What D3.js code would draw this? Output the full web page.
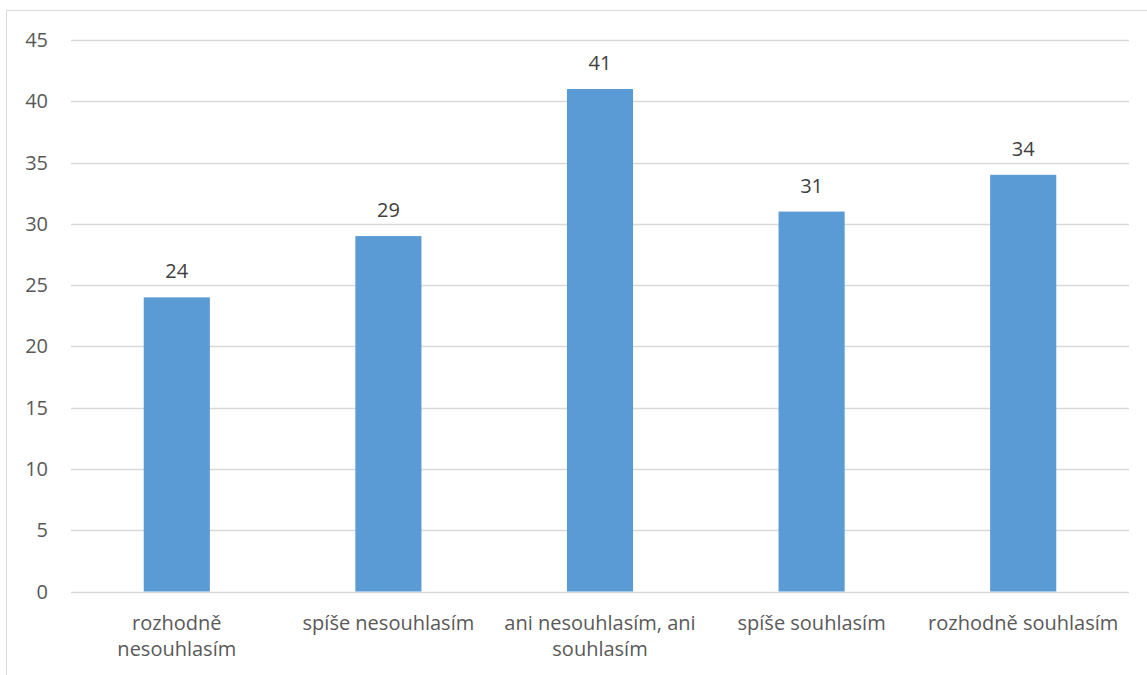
<!DOCTYPE html>
<html><head><meta charset="utf-8">
<script src="https://cdn.jsdelivr.net/npm/d3@7"></script>
<style>body{margin:0;background:#fff}svg{display:block}</style>
</head><body>
<svg id="c" width="1147" height="675"></svg>
<script>
const categories = ["rozhodně\nnesouhlasím", "spíše nesouhlasím", "ani nesouhlasím, ani\nsouhlasím", "spíše souhlasím", "rozhodně souhlasím"];
const values = [24, 29, 41, 31, 34];
const yTicks = [0, 5, 10, 15, 20, 25, 30, 35, 40, 45];

(function () {
const svg = d3.select("#c");
const font = "Open Sans, Noto Sans, sans-serif";
const fs = 20;
const textColor = "#595959";
svg.append("rect").attr("x", 6.5).attr("y", 10.5).attr("width", 1200).attr("height", 700)
  .attr("fill", "#fff").attr("stroke", "#d9d9d9").attr("stroke-width", 1);

const pLeft = 71, pRight = 1129, pTop = 40, pBottom = 591.5;
const x = d3.scaleBand().domain(categories).range([pLeft, pRight]).paddingInner(0.6875).paddingOuter(0.34375);
const y = d3.scaleLinear().domain([0, 45]).range([pBottom, pTop]);

const g = svg.append("g");
g.selectAll("line.grid").data(yTicks).join("line").attr("class", "grid")
  .attr("x1", pLeft).attr("x2", pRight).attr("y1", d => Math.round(y(d)) + 0.5).attr("y2", d => Math.round(y(d)) + 0.5)
  .attr("stroke", "#d9d9d9").attr("stroke-width", 1.3);

g.selectAll("text.yt").data(yTicks).join("text").attr("class", "yt")
  .attr("x", 48).attr("y", d => y(d) + 7).attr("text-anchor", "end")
  .attr("font-family", font).attr("font-size", fs).attr("fill", textColor).text(d => d);

g.selectAll("rect.bar").data(values).join("rect").attr("class", "bar")
  .attr("x", (d, i) => x(categories[i])).attr("width", x.bandwidth())
  .attr("y", d => y(d)).attr("height", d => y(0) - y(d)).attr("fill", "#5b9bd5");

g.selectAll("text.val").data(values).join("text").attr("class", "val")
  .attr("x", (d, i) => x(categories[i]) + x.bandwidth() / 2).attr("y", d => y(d) - 19)
  .attr("text-anchor", "middle").attr("font-family", font).attr("font-size", fs).attr("fill", "#404040").text(d => d);

categories.forEach((c, i) => {
  const t = g.append("text").attr("text-anchor", "middle").attr("font-family", font).attr("font-size", fs).attr("fill", textColor);
  c.split("\n").forEach((line, j) => {
    t.append("tspan").attr("x", x(c) + x.bandwidth() / 2).attr("y", 630 + j * 26).text(line);
  });
});
})();
</script>
</body></html>
